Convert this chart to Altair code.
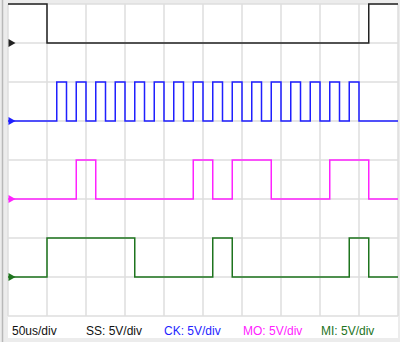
import altair as alt
import pandas as pd

# ---- data (time in microseconds, 50 us/div; vertical in divisions) ----
channels = ["SS", "CK", "MO", "MI"]
offsets = [7, 5, 3, 1]            # channel zero level (div)
start_levels = [1, 0, 0, 0]
ss_edges = [50, 462.5]
ck_edges = [62.5, 75, 87.5, 100, 112.5, 125, 137.5, 150, 162.5, 175, 187.5,
            200, 212.5, 225, 237.5, 250, 262.5, 275, 287.5, 300, 312.5, 325,
            337.5, 350, 362.5, 375, 387.5, 400, 412.5, 425, 437.5, 450]
mo_edges = [87.5, 112.5, 237.5, 262.5, 287.5, 337.5, 412.5, 462.5]
mi_edges = [50, 162.5, 262.5, 287.5, 437.5, 462.5]
t_end = 500
grid_t = [0, 50, 100, 150, 200, 250, 300, 350, 400, 450, 500]
grid_v = [0, 1, 2, 3, 4, 5, 6, 7, 8]
labels = ["50us/div", "SS: 5V/div", "CK: 5V/div", "MO: 5V/div", "MI: 5V/div"]

# ---- styles ----
colors = ["#222222", "#1f1fff", "#ff22ff", "#1e741e"]
label_colors = ["#111111", "#111111", "#1f1fff", "#ff22ff", "#1e741e"]
label_px = [12, 86, 164, 243, 321]

edges_all = [ss_edges, ck_edges, mo_edges, mi_edges]
rows = []
for ch, off, lvl, edges in zip(channels, offsets, start_levels, edges_all):
    rows.append({"ch": ch, "t": 0, "v": off + lvl})
    for e in edges:
        lvl = 1 - lvl
        rows.append({"ch": ch, "t": e, "v": off + lvl})
    rows.append({"ch": ch, "t": t_end, "v": off + lvl})
trace_df = pd.DataFrame(rows)

xs = alt.Scale(domain=[-8 / 0.78, 392 / 0.78], nice=False, zero=False)
ys = alt.Scale(domain=[-26 / 39, 8 + 4 / 39], nice=False, zero=False)
cscale = alt.Scale(domain=channels, range=colors)

one = pd.DataFrame({"a": [0]})

panel = alt.Chart(one).mark_rect(color="white").encode(
    x=alt.value(8), x2=alt.value(398), y=alt.value(4), y2=alt.value(338))

left_line = alt.Chart(one).mark_rule(color="#b8b8b8", strokeWidth=1.5).encode(
    x=alt.value(2.5), y=alt.value(0), y2=alt.value(342))

vgrid = alt.Chart(pd.DataFrame({"t": grid_t})).mark_rule(
    color="#dedede", strokeWidth=1.5).encode(
    x=alt.X("t:Q", scale=xs, axis=None), y=alt.value(4), y2=alt.value(316))

hgrid = alt.Chart(pd.DataFrame({"v": grid_v})).mark_rule(
    color="#dedede", strokeWidth=1.5).encode(
    y=alt.Y("v:Q", scale=ys, axis=None), x=alt.value(8), x2=alt.value(398))

traces = alt.Chart(trace_df).mark_line(
    interpolate="step-after", strokeWidth=1.5).encode(
    x=alt.X("t:Q", scale=xs, axis=None),
    y=alt.Y("v:Q", scale=ys, axis=None),
    color=alt.Color("ch:N", scale=cscale, legend=None),
    detail="ch:N")

markers = alt.Chart(pd.DataFrame({"ch": channels, "v": offsets})).mark_point(
    shape="triangle-right", filled=True, size=65, opacity=1).encode(
    x=alt.value(12),
    y=alt.Y("v:Q", scale=ys, axis=None),
    color=alt.Color("ch:N", scale=cscale, legend=None))

texts = []
for lab, col, px in zip(labels, label_colors, label_px):
    texts.append(alt.Chart(one).mark_text(
        text=lab, color=col, align="left", baseline="middle",
        font="Liberation Sans", fontSize=12).encode(
        x=alt.value(px), y=alt.value(331)))

chart = alt.layer(panel, left_line, vgrid, hgrid, traces, markers, *texts).properties(
    width=400, height=342,
    autosize=alt.AutoSizeParams(type="none"),
    padding=0,
    background="#ececec",
).configure_view(stroke=None)

chart.save("out.html", embed_options={"renderer": "svg", "actions": False})
